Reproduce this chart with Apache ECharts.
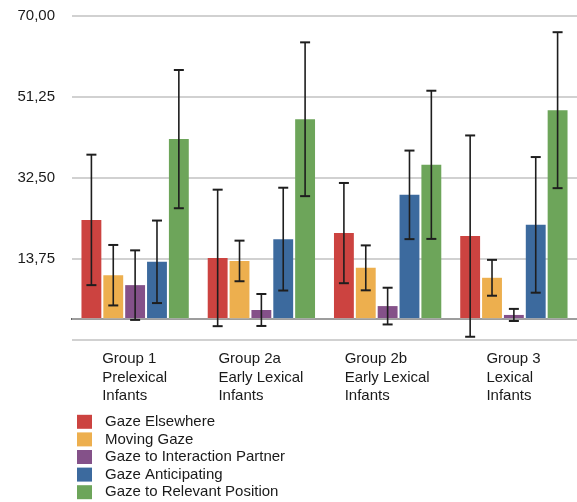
<!DOCTYPE html>
<html>
<head>
<meta charset="utf-8">
<script src="https://cdn.jsdelivr.net/npm/echarts@6/dist/echarts.min.js"></script>
<style>html,body{margin:0;padding:0;background:#fff;}#c{width:577px;height:502px;}</style>
</head>
<body>
<div id="c"></div>
<script>
const categories = ['Group 1\nPrelexical\nInfants', 'Group 2a\nEarly Lexical\nInfants', 'Group 2b\nEarly Lexical\nInfants', 'Group 3\nLexical\nInfants'];
const seriesNames = ['Gaze Elsewhere', 'Moving Gaze', 'Gaze to Interaction Partner', 'Gaze Anticipating', 'Gaze to Relevant Position'];
const gazeElsewhere = [22.8, 14.0, 19.75, 19.05];
const movingGaze = [10.0, 13.3, 11.7, 9.4];
const gazeInteraction = [7.7, 1.95, 2.85, 0.8];
const gazeAnticipating = [13.1, 18.35, 28.6, 21.65];
const gazeRelevant = [41.5, 46.1, 35.55, 48.2];
const sdElsewhere = [15.1, 15.8, 11.6, 23.3];
const sdMoving = [7.0, 4.7, 5.2, 4.15];
const sdInteraction = [8.05, 3.7, 4.25, 1.4];
const sdAnticipating = [9.55, 11.9, 10.25, 15.7];
const sdRelevant = [16.0, 17.8, 17.15, 18.05];
const yTicks = { min: -5, max: 70, interval: 18.75 };

const means = [gazeElsewhere, movingGaze, gazeInteraction, gazeAnticipating, gazeRelevant];
const sds = [sdElsewhere, sdMoving, sdInteraction, sdAnticipating, sdRelevant];
const colors = ['#CC4340', '#EDAF4E', '#845189', '#3C6A9E', '#6DA55A'];

const catGap = 0.15, barGapRatio = 0.1;
const nSeries = means.length;

const fontFam = '"Liberation Sans", Arial, Helvetica, sans-serif';
const fs = 15;
const ctx = document.createElement('canvas').getContext('2d');
ctx.font = fs + 'px ' + fontFam;
const rich = {};
categories.forEach((c, i) => {
  const w = Math.max(...c.split('\n').map(s => ctx.measureText(s).width));
  rich['g' + i] = { width: Math.ceil(w), align: 'left', fontSize: fs, lineHeight: 18.3, color: '#1a1a1a', fontFamily: fontFam };
});

const series = [];
means.forEach((m, i) => {
  series.push({
    name: seriesNames[i], type: 'bar', data: m,
    itemStyle: { color: colors[i] },
    barGap: (barGapRatio * 100) + '%', barCategoryGap: (catGap * 100) + '%',
    z: 2,
    markLine: i === 0 ? { silent: true, symbol: 'none', label: { show: false },
      lineStyle: { color: '#c2c2c2', width: 1.5, type: 'solid' }, data: [{ yAxis: 0 }] } : undefined
  });
});
means.forEach((m, i) => {
  const errData = m.map((v, k) => [k, v - sds[i][k], v + sds[i][k]]);
  series.push({
    type: 'custom', name: seriesNames[i] + ' err', z: 5,
    data: errData,
    renderItem: function (params, api) {
      const cat = api.value(0);
      const lo = api.coord([cat, api.value(1)]);
      const hi = api.coord([cat, api.value(2)]);
      const band = api.size([1, 0])[0];
      const w = band * (1 - catGap) / (nSeries + (nSeries - 1) * barGapRatio);
      const start = -band * (1 - catGap) / 2;
      const x = lo[0] + start + i * w * (1 + barGapRatio) + w / 2;
      const cap = 5;
      const st = { stroke: '#1e1e1e', lineWidth: 1.6 };
      return { type: 'group', children: [
        { type: 'line', shape: { x1: x, y1: hi[1], x2: x, y2: lo[1] }, style: st },
        { type: 'line', shape: { x1: x - cap, y1: hi[1], x2: x + cap, y2: hi[1] }, style: { stroke: '#1e1e1e', lineWidth: 2 } },
        { type: 'line', shape: { x1: x - cap, y1: lo[1], x2: x + cap, y2: lo[1] }, style: { stroke: '#1e1e1e', lineWidth: 2 } }
      ]};
    }
  });
});

const chart = echarts.init(document.getElementById('c'), null, { renderer: 'canvas' });
chart.setOption({
  animation: false,
  backgroundColor: '#fff',
  grid: { left: 72, right: 0, top: 16, bottom: 162, containLabel: false },
  legend: {
    data: seriesNames, orient: 'vertical', left: 77, top: 413, padding: 0,
    icon: 'rect', itemWidth: 15, itemHeight: 14, itemGap: 0,
    textStyle: { fontSize: fs, lineHeight: 17.6, color: '#1a1a1a', fontFamily: fontFam, padding: [0, 0, 0, 8] }
  },
  xAxis: {
    type: 'category', data: categories,
    axisLine: { lineStyle: { color: '#333', width: 2 } },
    axisTick: { show: false },
    axisLabel: {
      margin: 10, align: 'center', interval: 0,
      formatter: function (v, idx) {
        return v.split('\n').map(s => '{g' + idx + '|' + s + '}').join('\n');
      },
      rich: rich
    }
  },
  yAxis: {
    type: 'value', min: yTicks.min, max: yTicks.max, interval: yTicks.interval,
    axisLine: { show: false }, axisTick: { show: false },
    splitLine: { lineStyle: { color: '#c2c2c2', width: 1.5 } },
    axisLabel: {
      showMinLabel: false, margin: 17, fontSize: fs, color: '#1a1a1a', fontFamily: fontFam,
      formatter: v => v.toFixed(2).replace('.', ',')
    }
  },
  series: series
});
</script>
</body>
</html>
